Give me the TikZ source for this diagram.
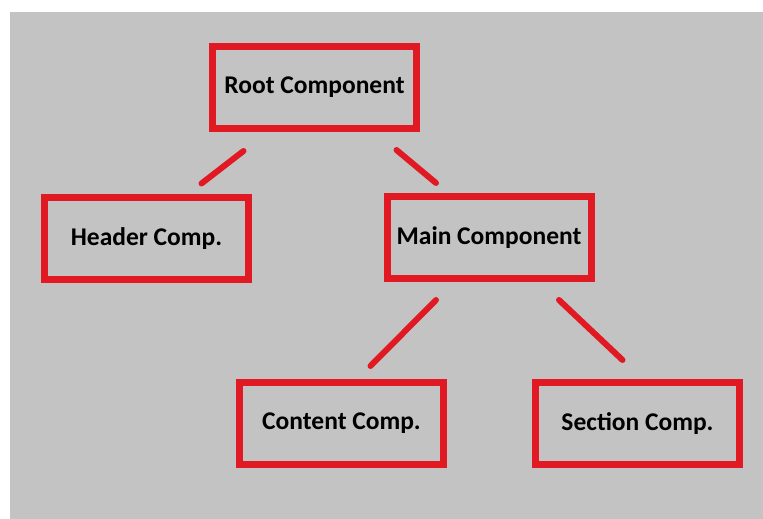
\documentclass[tikz,border=0pt]{standalone}
\usepackage{fontspec}
\setmainfont{Carlito}
\definecolor{panelgrey}{RGB}{195,195,195}
\definecolor{boxred}{RGB}{225,25,35}

\begin{document}
\begin{tikzpicture}[
    x=1pt, y=1pt,
    comp/.style={draw=boxred, line width=7pt, minimum width=204pt, minimum height=82pt,
        inner sep=0pt, font=\fontsize{25.5}{30}\selectfont\bfseries},
    link/.style={boxred, line width=6pt, line cap=round}
]

% Background
\useasboundingbox (0,0) rectangle (763,519);
\fill[panelgrey] (10,0) rectangle (763,507);

% Components
\node[comp] (root) at (314.5,431.5) {Root Component};
\node[comp] (header) at (146.5,280) {Header Comp.};
\node[comp] (main) at (489,281.5) {Main Component};
\node[comp] (content) at (341.5,95.5) {Content Comp.};
\node[comp] (section) at (637.5,95.5) {Section Comp.};

% Links
\draw[link] ([xshift=-71pt,yshift=-19pt]root.south) -- ([xshift=55pt,yshift=11pt]header.north);
\draw[link] ([xshift=82pt,yshift=-18pt]root.south) -- ([xshift=-53pt,yshift=10pt]main.north);
\draw[link] ([xshift=-53pt,yshift=-18pt]main.south) -- ([xshift=29pt,yshift=13pt]content.north);
\draw[link] ([xshift=70pt,yshift=-18pt]main.south) -- ([xshift=-15pt,yshift=19pt]section.north);

\end{tikzpicture}
\end{document}
